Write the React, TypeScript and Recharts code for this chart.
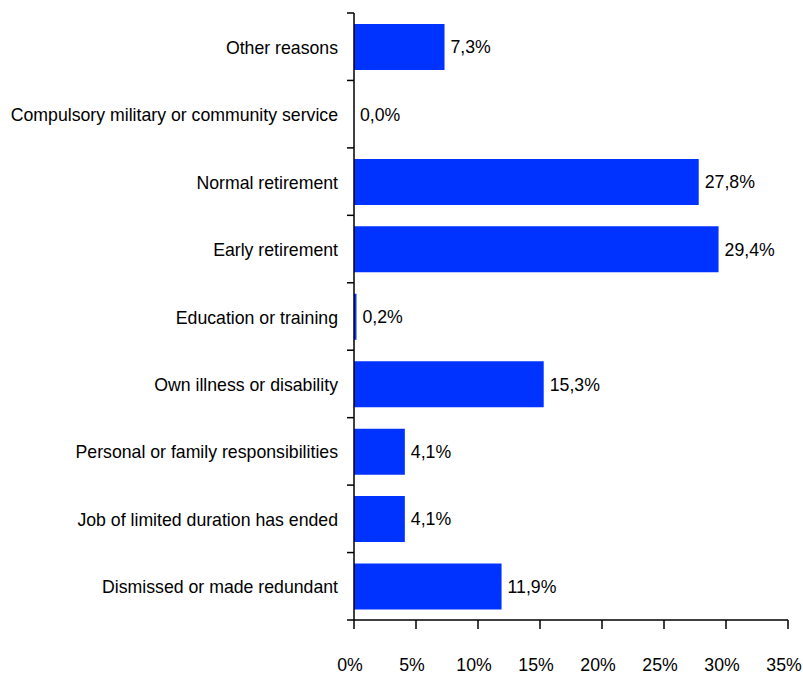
import React from "react";
import { BarChart, Bar, XAxis, YAxis, LabelList } from "recharts";

const categories = [
  "Other reasons",
  "Compulsory military or community service",
  "Normal retirement",
  "Early retirement",
  "Education or training",
  "Own illness or disability",
  "Personal or family responsibilities",
  "Job of limited duration has ended",
  "Dismissed or made redundant",
];
const values = [7.3, 0.0, 27.8, 29.4, 0.2, 15.3, 4.1, 4.1, 11.9];
const xTicks = [0, 5, 10, 15, 20, 25, 30, 35];

const data = categories.map((name, i) => ({ name, value: values[i] }));

const W = 803;
const H = 673;
const M = { top: 13, right: 15, bottom: 0, left: 0 };
const Y_W = 354;
const X_H = 53;
const plotH = H - M.top - M.bottom - X_H;
const band = plotH / categories.length;
const FONT = "'Liberation Sans', Arial, sans-serif";
const FS = 17.7;

const YTick = (props: any) => {
  const { x, y, payload, index } = props;
  return (
    <g>
      <line x1={x + 1} x2={x + 8} y1={y - band / 2} y2={y - band / 2} stroke="#000" strokeWidth={1.5} />
      {index === categories.length - 1 && (
        <line x1={x + 1} x2={x + 8} y1={y + band / 2} y2={y + band / 2} stroke="#000" strokeWidth={1.5} />
      )}
      <text x={x - 8} y={y + 1} textAnchor="end" dominantBaseline="central" fontSize={FS} fontFamily={FONT} fill="#000">
        {payload.value}
      </text>
    </g>
  );
};

const XTick = (props: any) => {
  const { x, y, payload } = props;
  return (
    <text x={x - 4} y={y + 34} textAnchor="middle" dominantBaseline="central" fontSize={FS} fontFamily={FONT} fill="#000">
      {`${payload.value}%`}
    </text>
  );
};

const fmt = (v: any) => `${Number(v).toFixed(1).replace(".", ",")}%`;

export default function App() {
  return (
    <div style={{ position: "absolute", left: 0, top: 0, background: "#fff" }}>
      <BarChart width={W} height={H} data={data} layout="vertical" margin={M}>
        <XAxis
          type="number"
          domain={[0, 35]}
          ticks={xTicks}
          tick={<XTick />}
          height={X_H}
          tickSize={9}
          axisLine={{ stroke: "#000", strokeWidth: 1.5 }}
          tickLine={{ stroke: "#000", strokeWidth: 1.5 }}
          allowDataOverflow
        />
        <YAxis
          type="category"
          dataKey="name"
          width={Y_W}
          tick={<YTick />}
          tickLine={false}
          axisLine={{ stroke: "#000", strokeWidth: 1.5 }}
          interval={0}
        />
        <Bar
          dataKey="value"
          fill="#0033FF"
          barSize={46}
          minPointSize={(v: any) => (v === 0 ? 0.01 : 0)}
          isAnimationActive={false}
        >
          <LabelList
            dataKey="value"
            position="right"
            offset={6}
            formatter={fmt}
            style={{ fontSize: FS, fontFamily: FONT, fill: "#000" }}
          />
        </Bar>
      </BarChart>
    </div>
  );
}
